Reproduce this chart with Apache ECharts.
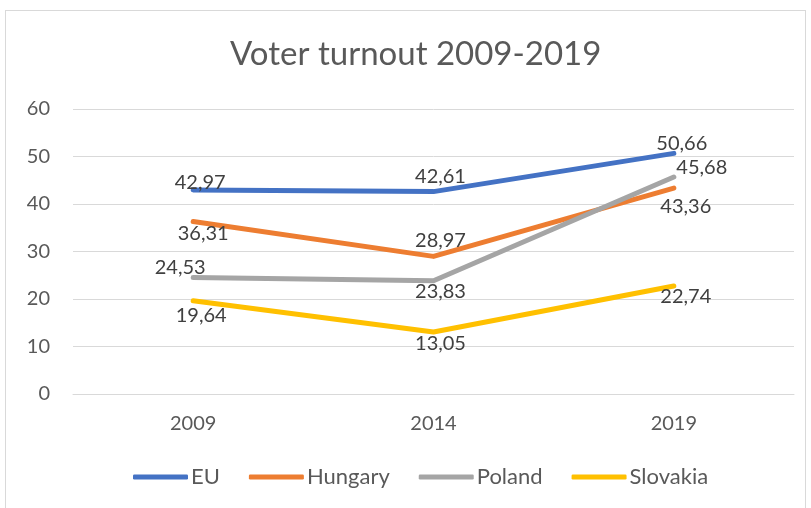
<!DOCTYPE html>
<html>
<head>
<meta charset="utf-8">
<script src="https://cdn.jsdelivr.net/npm/echarts@6/dist/echarts.min.js"></script>
<style>
  html, body { margin: 0; padding: 0; background: #fff; }
  #frame { position: absolute; left: 5px; top: 10px; width: 801px; height: 520px; border: 1px solid #D9D9D9; box-sizing: border-box; }
  #chart { position: absolute; left: 0; top: 0; width: 811px; height: 508px; }
</style>
</head>
<body>
<div id="frame"></div>
<div id="chart"></div>
<script>
// Election years on the category axis
const years = ['2009', '2014', '2019'];

// Turnout in percent per election
const euTurnout = [42.97, 42.61, 50.66];
const hungaryTurnout = [36.31, 28.97, 43.36];
const polandTurnout = [24.53, 23.83, 45.68];
const slovakiaTurnout = [19.64, 13.05, 22.74];

// Value axis ticks
const yTicks = [0, 10, 20, 30, 40, 50, 60];

// Label placement (pixel offset from each point)
const labelOffsets = {
  EU:       [[7, -7], [7, -15], [8, -10]],
  Hungary:  [[10, 12], [7, -16], [12, 19]],
  Poland:   [[-13, -10], [7, 11], [28, -9]],
  Slovakia: [[8, 15], [7, 12], [12, 11]]
};

const FONT = 'Lato';
const fmt = v => v.toFixed(2).replace('.', ',');

function makeSeries(name, values, color) {
  return {
    name: name,
    type: 'line',
    data: values.map((v, i) => ({
      value: v,
      label: { offset: labelOffsets[name][i] }
    })),
    symbol: 'circle',
    symbolSize: 1,
    showSymbol: true,
    itemStyle: { color: color },
    lineStyle: { color: color, width: 5, cap: 'round', join: 'round' },
    label: {
      show: true,
      position: 'inside',
      align: 'center',
      verticalAlign: 'middle',
      formatter: p => fmt(p.value),
      color: '#404040',
      fontFamily: FONT,
      fontSize: 20
    },
    emphasis: { disabled: true },
    animation: false
  };
}

const chart = echarts.init(document.getElementById('chart'), null, { renderer: 'canvas' });
chart.setOption({
  backgroundColor: 'transparent',
  title: {
    text: 'Voter turnout 2009-2019',
    left: 225,
    top: 33,
    textStyle: { color: '#595959', fontFamily: FONT, fontWeight: 'normal', fontSize: 33 }
  },
  grid: { left: 73, right: 17, top: 109, bottom: 114, containLabel: false },
  xAxis: {
    type: 'category',
    data: years,
    boundaryGap: true,
    axisLine: { show: true, lineStyle: { color: '#D9D9D9', width: 1 } },
    axisTick: { show: false },
    axisLabel: { color: '#595959', fontFamily: FONT, fontSize: 20, margin: 20 }
  },
  yAxis: {
    type: 'value',
    min: yTicks[0],
    max: yTicks[yTicks.length - 1],
    interval: yTicks[1] - yTicks[0],
    axisLine: { show: false },
    axisTick: { show: false },
    splitLine: { lineStyle: { color: '#D9D9D9', width: 1 } },
    axisLabel: { color: '#595959', fontFamily: FONT, fontSize: 20, margin: 23 }
  },
  legend: {
    bottom: 15,
    left: 128,
    itemWidth: 55,
    itemHeight: 5,
    itemGap: 29,
    icon: 'roundRect',
    textStyle: { color: '#595959', fontFamily: FONT, fontSize: 22, padding: [0, 0, 0, -2] },
    data: ['EU', 'Hungary', 'Poland', 'Slovakia']
  },
  series: [
    makeSeries('EU', euTurnout, '#4472C4'),
    makeSeries('Hungary', hungaryTurnout, '#ED7D31'),
    makeSeries('Poland', polandTurnout, '#A5A5A5'),
    makeSeries('Slovakia', slovakiaTurnout, '#FFC000')
  ]
});
</script>
</body>
</html>
